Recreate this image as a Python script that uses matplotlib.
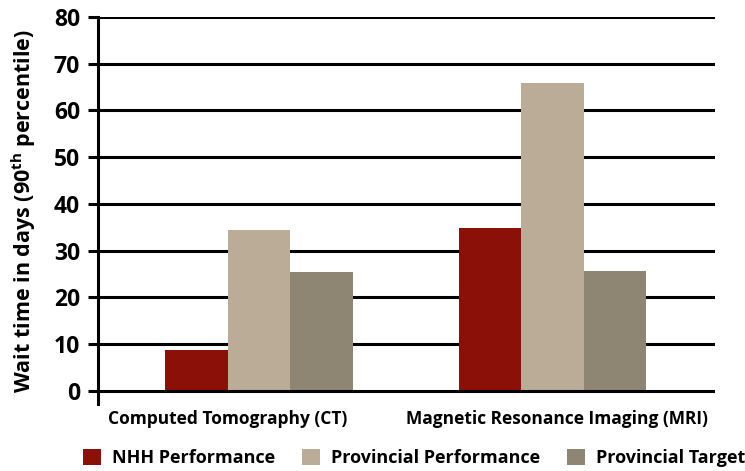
import numpy as np
import matplotlib
matplotlib.use("Agg")
import matplotlib.pyplot as plt
from matplotlib.patches import Patch

plt.rcParams['font.family'] = ['Open Sans', 'DejaVu Sans']
plt.rcParams['font.weight'] = 'bold'
plt.rcParams['mathtext.fontset'] = 'custom'
plt.rcParams['mathtext.rm'] = 'Open Sans:bold'
plt.rcParams['mathtext.it'] = 'Open Sans:bold'
plt.rcParams['mathtext.bf'] = 'Open Sans:bold'

categories = ["Computed Tomography (CT)", "Magnetic Resonance Imaging (MRI)"]
series_names = ["NHH Performance", "Provincial Performance", "Provincial Target"]
nhh = [8.7, 34.8]
provincial = [34.4, 65.8]
target = [25.4, 25.7]
colors = ["#8B1008", "#BBAC97", "#8E8573"]
yticks = [0, 10, 20, 30, 40, 50, 60, 70, 80]

fig = plt.figure(figsize=(7.45, 4.71), dpi=100)
ax = fig.add_axes([98/745, 1-404/471, (715-98)/745, (404-17)/471])

x = np.arange(len(categories))
w = 0.213
for i, (vals, c) in enumerate(zip([nhh, provincial, target], colors)):
    ax.bar(x + (i - 1) * w, vals, width=w, color=c, zorder=2, linewidth=0)

ax.set_xlim(-0.549, 1.553)
ax.set_ylim(-2.8, 80)
ax.set_yticks(yticks)
ax.set_yticklabels([str(t) for t in yticks], fontsize=16.5, fontweight='bold')
ax.set_xticks([])

for t in yticks:
    ax.axhline(t, color='black', lw=2.2, zorder=1 if t else 3)

for s in ['top', 'right', 'bottom']:
    ax.spines[s].set_visible(False)
ax.spines['left'].set_linewidth(2.2)
ax.tick_params(axis='y', length=7, width=2.2, pad=6)

ax.set_ylabel("Wait time in days (90$^{\\mathrm{th}}$ percentile)", fontsize=15.5,
              fontweight='bold', labelpad=11)

label_offsets = [-0.107, 0.015]
for xi, lab, off in zip(x, categories, label_offsets):
    ax.text(xi + off, -4.0, lab, ha='center', va='top', fontsize=12.5,
            fontweight='bold')

handles = [Patch(facecolor=c, edgecolor='none') for c in colors]
fig.legend(handles, series_names, loc='center', ncol=3,
           bbox_to_anchor=(414/745, 1-458/471), frameon=False,
           prop={'size': 13, 'weight': 'bold'}, handlelength=1.0,
           handleheight=1.0, handletextpad=0.6, columnspacing=1.5)

fig.savefig("out.png", dpi=100)
